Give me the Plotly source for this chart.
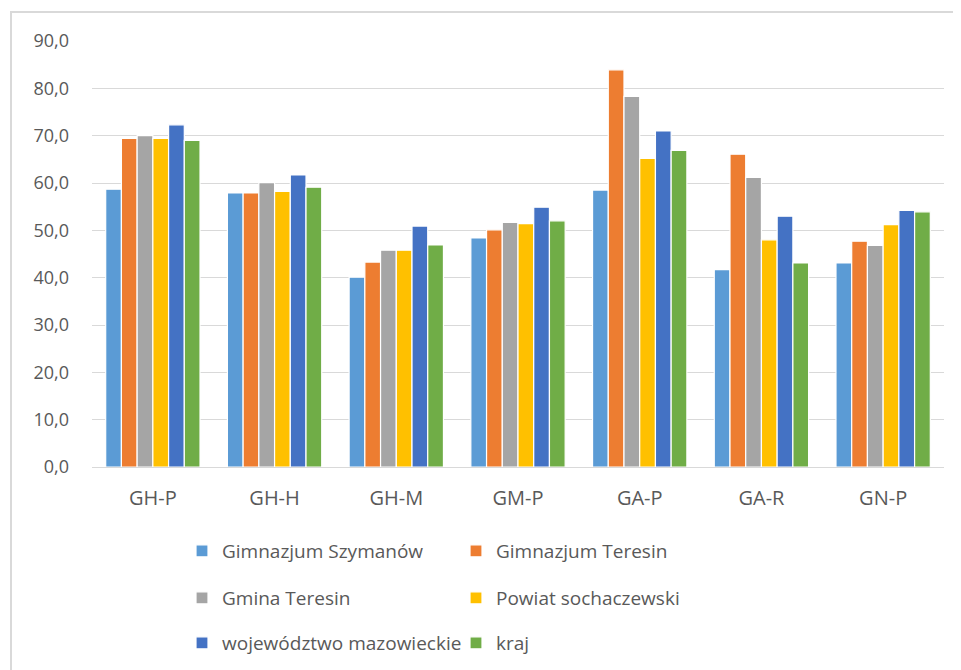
import plotly.graph_objects as go

categories = ["GH-P", "GH-H", "GH-M", "GM-P", "GA-P", "GA-R", "GN-P"]
series_names = ["Gimnazjum Szymanów", "Gimnazjum Teresin", "Gmina Teresin",
                "Powiat sochaczewski", "województwo mazowieckie", "kraj"]
szymanow = [58.7, 57.9, 40.1, 48.4, 58.5, 41.7, 43.1]
teresin = [69.4, 57.9, 43.3, 50.1, 83.9, 66.1, 47.7]
gmina = [70.0, 60.1, 45.8, 51.7, 78.3, 61.2, 46.8]
powiat = [69.4, 58.2, 45.8, 51.4, 65.2, 48.0, 51.2]
wojewodztwo = [72.3, 61.7, 50.9, 54.9, 71.0, 53.0, 54.2]
kraj = [69.0, 59.1, 46.9, 52.0, 66.9, 43.1, 53.9]
y_ticks = [0, 10, 20, 30, 40, 50, 60, 70, 80, 90]

colors = ["#5B9BD5", "#ED7D31", "#A5A5A5", "#FFC000", "#4472C4", "#70AD47"]
values = [szymanow, teresin, gmina, powiat, wojewodztwo, kraj]
legend_ids = ["legend", "legend", "legend2", "legend2", "legend3", "legend3"]

FONT = "Open Sans"
TXT = "#595959"

# page body adds an 8px offset to the figure
OFF = 8
W, H = 961, 670
L, T = 92 - OFF, 41 - OFF
R = W - (944 - OFF)
B = H - (467 - OFF)
pw, ph = W - L - R, H - T - B

def px_x(p):
    return (p - OFF - L) / pw

def px_y(p):
    return (H - B - (p - OFF)) / ph

fig = go.Figure()
for name, vals, col, lg in zip(series_names, values, colors, legend_ids):
    fig.add_trace(go.Bar(
        x=categories, y=vals, name=name, legend=lg,
        marker=dict(color=col, line=dict(color="white", width=1.2)),
    ))

legend_common = dict(
    orientation="h", xanchor="left", yanchor="middle",
    font=dict(family=FONT, size=19, color=TXT),
    entrywidth=229, entrywidthmode="pixels", itemwidth=30,
    bgcolor="rgba(0,0,0,0)", tracegroupgap=0,
)

fig.update_layout(
    width=W, height=H,
    margin=dict(l=L, r=R, t=T, b=B, autoexpand=False),
    paper_bgcolor="white", plot_bgcolor="white",
    barmode="group", bargap=0.225, bargroupgap=0,
    font=dict(family=FONT, size=18, color=TXT),
    showlegend=True,
    legend=dict(x=px_x(182), y=px_y(551), **legend_common),
    legend2=dict(x=px_x(182), y=px_y(598), **legend_common),
    legend3=dict(x=px_x(182), y=px_y(643), **legend_common),
    xaxis=dict(
        showgrid=False, showline=True, linecolor="#d9d9d9", linewidth=1,
        ticks="", ticklabelstandoff=13, automargin=False,
        tickfont=dict(family=FONT, size=20, color=TXT),
    ),
    yaxis=dict(
        range=[0, 90], tickvals=y_ticks,
        ticktext=[f"{v:.1f}".replace(".", ",") for v in y_ticks],
        showgrid=True, gridcolor="#d9d9d9", gridwidth=1, automargin=False,
        zeroline=False, showline=False, ticks="", ticklabelstandoff=22,
        tickfont=dict(family=FONT, size=18, color=TXT),
    ),
    shapes=[dict(
        type="rect", xref="paper", yref="paper",
        x0=px_x(11), x1=px_x(990), y0=px_y(700), y1=px_y(12),
        line=dict(color="#d9d9d9", width=2), layer="below",
    )],
)

fig.write_html("out.html")
